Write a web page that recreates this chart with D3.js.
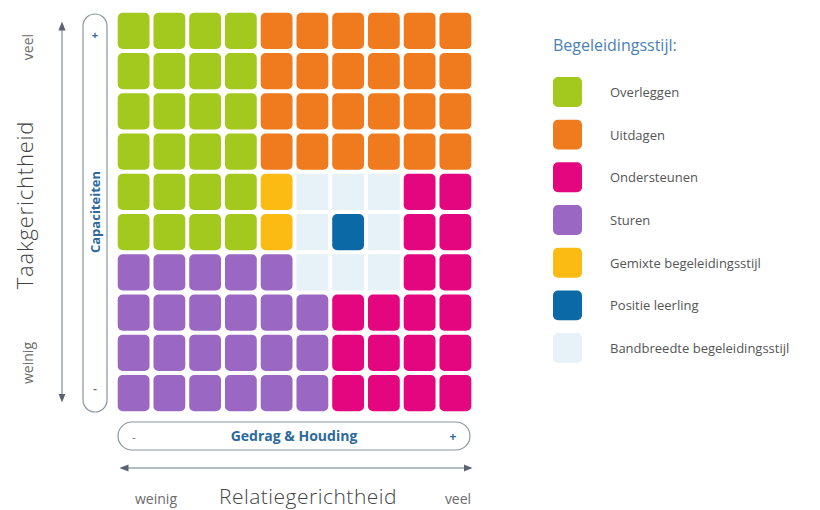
<!DOCTYPE html>
<html><head><meta charset="utf-8">
<script src="https://cdn.jsdelivr.net/npm/d3@7/dist/d3.min.js"></script>
<style>body{margin:0;background:#fff;font-family:"Open Sans","Noto Sans",sans-serif}</style>
</head><body><svg id="c" width="820" height="510"></svg>
<script>
// Style keys
const styles = ["O","U","N","S","M","P","B"];
const styleLabels = ["Overleggen","Uitdagen","Ondersteunen","Sturen","Gemixte begeleidingsstijl","Positie leerling","Bandbreedte begeleidingsstijl"];
const styleColors = ["#a3c81e","#f07a1e","#e4067f","#9a68c2","#fcbb12","#0b6aa6","#e6f1f8"];
// Grid rows, top (veel taakgerichtheid) to bottom (weinig)
const gridRows = [
  "OOOOUUUUUU",
  "OOOOUUUUUU",
  "OOOOUUUUUU",
  "OOOOUUUUUU",
  "OOOOMBBBNN",
  "OOOOMBPBNN",
  "SSSSSBBBNN",
  "SSSSSSNNNN",
  "SSSSSSNNNN",
  "SSSSSSNNNN"
];
const colIdx = d3.range(10), rowIdx = d3.range(10);

const svg = d3.select("#c");
const x = d3.scaleBand().domain(colIdx).range([117, 472]).paddingInner(0.11).paddingOuter(0.02);
const y = d3.scaleBand().domain(rowIdx).range([12, 412]).paddingInner(0.1).paddingOuter(0.02);
const color = d3.scaleOrdinal().domain(styles).range(styleColors);

const cells = [];
gridRows.forEach((r,i)=>r.split("").forEach((k,j)=>cells.push({r:i,c:j,k})));
svg.append("g").selectAll("rect").data(cells).join("rect")
  .attr("x",d=>x(d.c)).attr("y",d=>y(d.r))
  .attr("width",x.bandwidth()).attr("height",y.bandwidth())
  .attr("rx",d=>d.k==="B"?1:5).attr("fill",d=>color(d.k));

const gray="#6b6b6b", axisC="#9aa3ad", blue="#2b6a9a";
// Left axis
svg.append("text").attr("transform","translate(33,205) rotate(-90)").attr("text-anchor","middle")
  .attr("font-size",22).attr("letter-spacing",0.8).attr("font-weight",300).attr("fill","#444").text("Taakgerichtheid");
svg.append("text").attr("transform","translate(33,47) rotate(-90)").attr("text-anchor","middle")
  .attr("font-size",14).attr("fill",gray).text("veel");
svg.append("text").attr("transform","translate(33,363) rotate(-90)").attr("text-anchor","middle")
  .attr("font-size",14).attr("fill",gray).text("weinig");
svg.append("defs").html('<marker id="ah" viewBox="0 0 10 10" refX="5" refY="5" markerWidth="6" markerHeight="6" orient="auto-start-reverse"><path d="M0,1L10,5L0,9z" fill="#5a6470"/></marker>');
svg.append("line").attr("x1",62).attr("x2",62).attr("y1",26).attr("y2",398)
  .attr("stroke",axisC).attr("stroke-width",1.5).attr("marker-start","url(#ah)").attr("marker-end","url(#ah)");
svg.append("rect").attr("x",83).attr("y",14).attr("width",24).attr("height",398).attr("rx",12)
  .attr("fill","none").attr("stroke","#8a96a3").attr("stroke-width",1.2);
svg.append("text").attr("x",95).attr("y",39).attr("text-anchor","middle").attr("font-size",11).attr("font-weight","bold").attr("fill",blue).text("+");
svg.append("text").attr("x",95).attr("y",392).attr("text-anchor","middle").attr("font-size",11).attr("font-weight","bold").attr("fill",gray).text("-");
svg.append("text").attr("transform","translate(100,212) rotate(-90)").attr("text-anchor","middle")
  .attr("font-size",13).attr("font-weight","bold").attr("fill",blue).text("Capaciteiten");
// Bottom axis
svg.append("rect").attr("x",118).attr("y",422).attr("width",352).attr("height",28).attr("rx",14)
  .attr("fill","none").attr("stroke","#8a96a3").attr("stroke-width",1.2);
svg.append("text").attr("x",134).attr("y",441).attr("text-anchor","middle").attr("font-size",11).attr("fill",gray).text("-");
svg.append("text").attr("x",453).attr("y",441).attr("text-anchor","middle").attr("font-size",12).attr("font-weight","bold").attr("fill",blue).text("+");
svg.append("text").attr("x",294).attr("y",441).attr("text-anchor","middle").attr("font-size",14).attr("font-weight","bold").attr("fill",blue).text("Gedrag & Houding");
svg.append("line").attr("x1",124).attr("x2",468).attr("y1",468).attr("y2",468)
  .attr("stroke",axisC).attr("stroke-width",1.5).attr("marker-start","url(#ah)").attr("marker-end","url(#ah)");
svg.append("text").attr("x",156).attr("y",504).attr("text-anchor","middle").attr("font-size",14).attr("fill",gray).text("weinig");
svg.append("text").attr("x",308).attr("y",504).attr("text-anchor","middle").attr("font-size",21).attr("letter-spacing",0.5).attr("font-weight",300).attr("fill","#444").text("Relatiegerichtheid");
svg.append("text").attr("x",458).attr("y",504).attr("text-anchor","middle").attr("font-size",14).attr("fill",gray).text("veel");
// Legend
svg.append("text").attr("x",553).attr("y",51).attr("font-size",16).attr("fill","#4a7fb8").text("Begeleidingsstijl:");
const ly = d3.scaleBand().domain(styles).range([77, 363]).paddingInner(0.3);
const lg = svg.append("g").selectAll("g").data(styles).join("g");
lg.append("rect").attr("x",553).attr("y",d=>ly(d)).attr("width",29).attr("height",ly.bandwidth())
  .attr("rx",5).attr("fill",d=>color(d));
lg.append("text").attr("x",610).attr("y",d=>ly(d)+ly.bandwidth()/2+5).attr("font-size",13).attr("fill","#555")
  .text((d,i)=>styleLabels[i]);
</script></body></html>
